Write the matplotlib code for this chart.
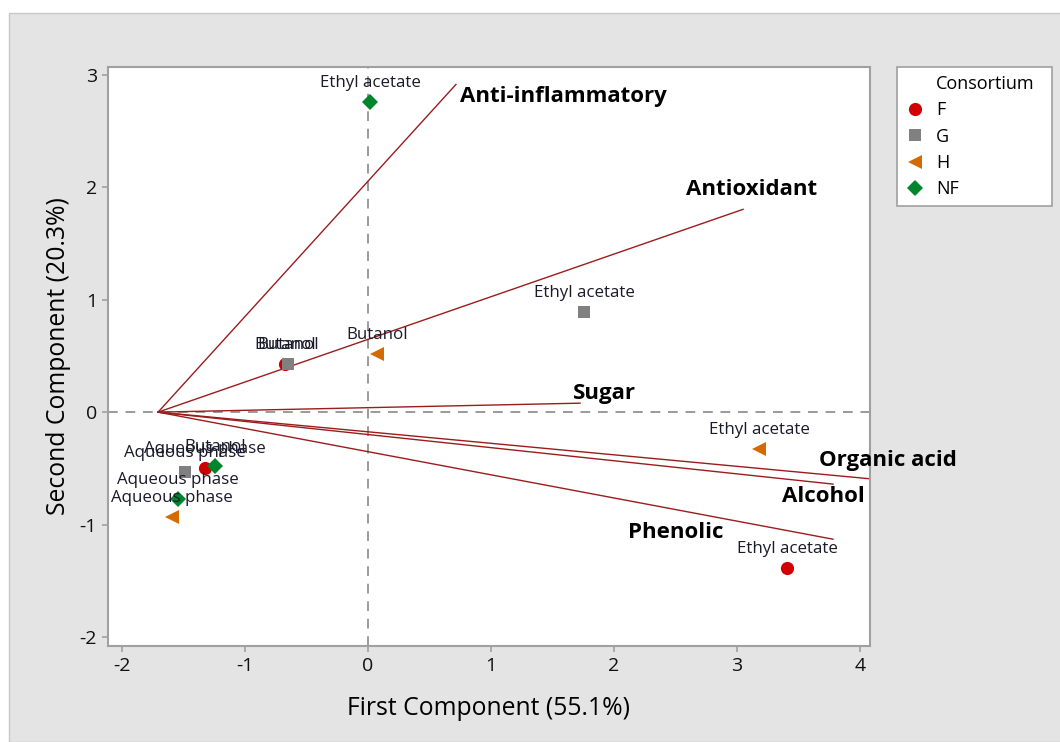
import matplotlib
matplotlib.use("Agg")
import matplotlib.pyplot as plt
from matplotlib.lines import Line2D
from matplotlib.patches import Rectangle
import numpy as np

plt.rcParams['font.family'] = ['Open Sans', 'DejaVu Sans']
plt.rcParams['axes.unicode_minus'] = False

# Score points per consortium
groups = ['F', 'G', 'H', 'NF']
group_colors = {'F': '#d10000', 'G': '#808080', 'H': '#d46b00', 'NF': '#00842c'}
group_markers = {'F': 'o', 'G': 's', 'H': '<', 'NF': 'D'}
group_sizes = {'F': 9.5, 'G': 9, 'H': 9.5, 'NF': 8.5}

score_group = ['F', 'F', 'F', 'G', 'G', 'G', 'H', 'H', 'H', 'NF', 'NF', 'NF']
score_label = ['Ethyl acetate', 'Butanol', 'Aqueous phase',
               'Ethyl acetate', 'Butanol', 'Aqueous phase',
               'Ethyl acetate', 'Butanol', 'Aqueous phase',
               'Ethyl acetate', 'Butanol', 'Aqueous phase']
score_x = [3.41, -0.675, -1.325, 1.756, -0.65, -1.488, 3.18, 0.073, -1.596, 0.016, -1.244, -1.542]
score_y = [-1.39, 0.427, -0.50, 0.889, 0.427, -0.533, -0.33, 0.516, -0.936, 2.756, -0.483, -0.773]

# Loading vectors (drawn from a common origin)
vec_origin = (-1.707, 0.0)
vec_names = ['Anti-inflammatory', 'Antioxidant', 'Sugar', 'Organic acid', 'Alcohol', 'Phenolic']
vec_x = [0.715, 3.049, 1.724, 4.25, 3.78, 3.78]
vec_y = [2.915, 1.804, 0.08, -0.61, -0.64, -1.13]
vec_text_x = [0.748, 3.12, 1.92, 4.23, 3.70, 2.50]
vec_text_y = [2.81, 1.98, 0.17, -0.43, -0.75, -1.07]
vec_text_ha = ['left', 'center', 'center', 'center', 'center', 'center']

fig = plt.figure(figsize=(10.6, 7.42), dpi=100)
fig.patch.set_facecolor('white')
fig.patches.append(Rectangle((9 / 1060, 0), 1, 1 - 13 / 742, transform=fig.transFigure,
                             facecolor='#e4e4e4', edgecolor='#c8c8c8', linewidth=1, zorder=-10))

ax = fig.add_axes([108 / 1060, 96 / 742, 762 / 1060, 579 / 742])
ax.set_facecolor('white')

ax.axhline(0, color='#9a9a9a', linestyle=(0, (5, 4)), linewidth=1.4, zorder=1)
ax.axvline(0, color='#9a9a9a', linestyle=(0, (5, 4)), linewidth=1.4, zorder=1)

for name, ex, ey, tx, ty, ha in zip(vec_names, vec_x, vec_y, vec_text_x, vec_text_y, vec_text_ha):
    ax.plot([vec_origin[0], ex], [vec_origin[1], ey], color='#9b1c1c', linewidth=1.0, zorder=2)
    ax.text(tx, ty, name, fontsize=16, fontweight='bold', ha=ha, va='center',
            color='black', clip_on=False, zorder=5)

for g, lab, x, y in zip(score_group, score_label, score_x, score_y):
    ax.plot(x, y, linestyle='none', marker=group_markers[g], color=group_colors[g],
            markersize=group_sizes[g], markeredgewidth=0, zorder=4)
    ax.annotate(lab, (x, y), xytext=(0, 8), textcoords='offset points',
                ha='center', va='bottom', fontsize=12.2, color='#1a1a2a', zorder=5)

ax.set_xlim(-2.114, 4.081)
ax.set_ylim(-2.08, 3.07)
ax.set_xticks([-2, -1, 0, 1, 2, 3, 4])
ax.set_yticks([-2, -1, 0, 1, 2, 3])
ax.tick_params(axis='both', direction='out', length=4, width=1.2, color='#a0a0a0',
               labelsize=14, labelcolor='#111111', pad=4)
for s in ax.spines.values():
    s.set_color('#a0a0a0')
    s.set_linewidth(1.5)

ax.set_xlabel('First Component (55.1%)', fontsize=17.8, labelpad=15)
ax.set_ylabel('Second Component (20.3%)', fontsize=17.8, labelpad=6)

handles = [Line2D([], [], linestyle='none')]
labels = ['Consortium']
for g in groups:
    handles.append(Line2D([], [], linestyle='none', marker=group_markers[g], color=group_colors[g],
                          markersize=group_sizes[g], markeredgewidth=0))
    labels.append(g)
leg = fig.legend(handles, labels, loc='upper left',
                 bbox_to_anchor=(897 / 1060, 1 - 207 / 742, 155 / 1060, 140 / 742),
                 mode='expand', bbox_transform=fig.transFigure, borderaxespad=0,
                 fontsize=13, frameon=True, fancybox=False, edgecolor='#a0a0a0',
                 facecolor='white', framealpha=1, handlelength=1.1, handletextpad=0.6,
                 labelspacing=0.46, borderpad=0.45)
leg.get_frame().set_linewidth(1.2)

fig.savefig('out.png', dpi=100, facecolor=fig.get_facecolor())
